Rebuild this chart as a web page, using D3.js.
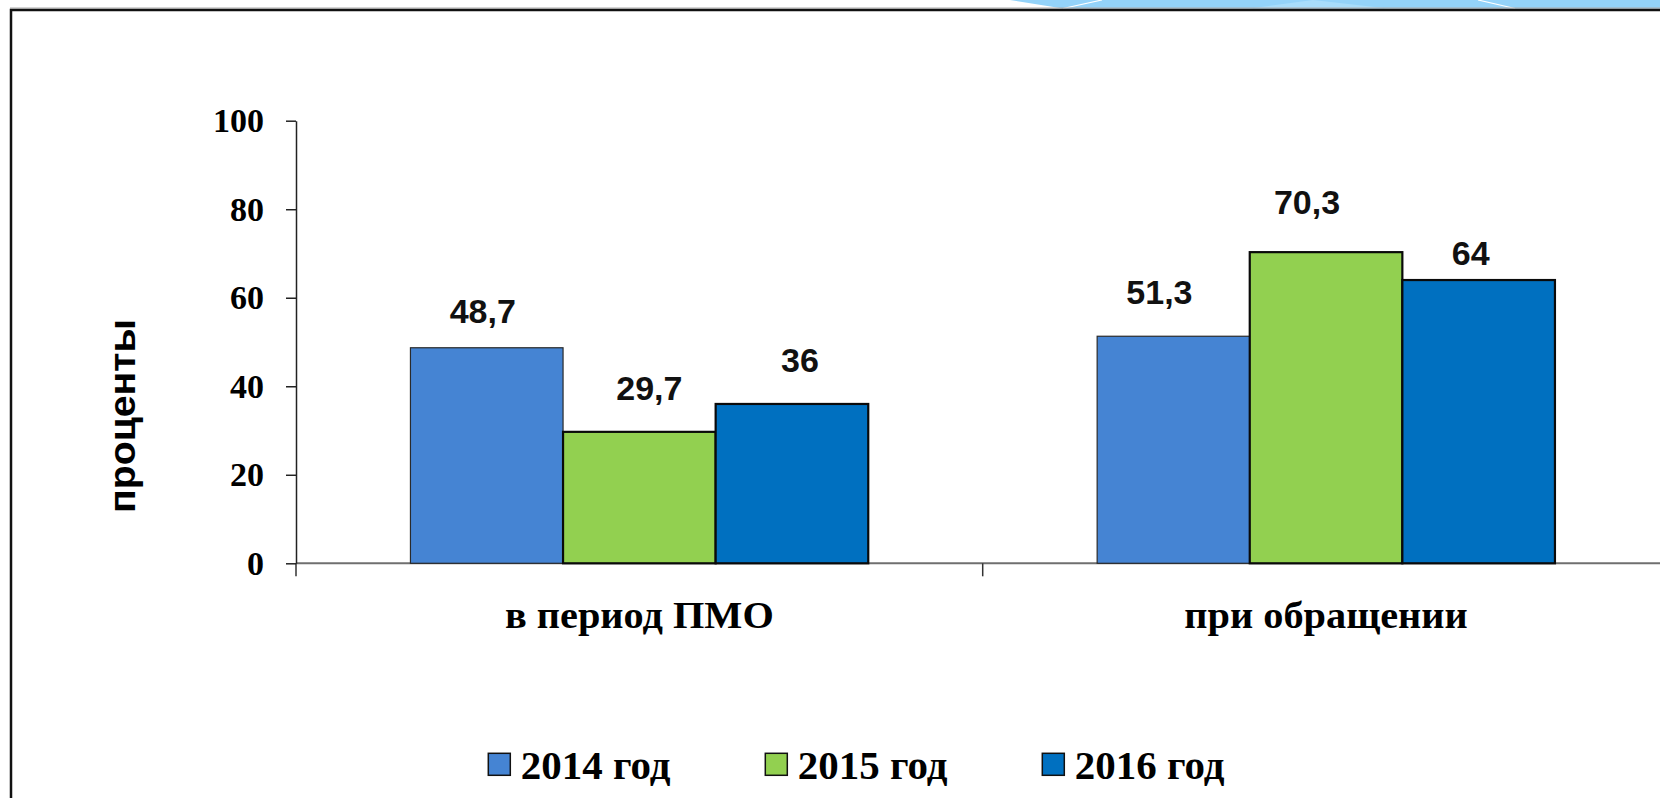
<!DOCTYPE html>
<html><head><meta charset="utf-8">
<script src="https://cdn.jsdelivr.net/npm/d3@7"></script>
<style>html,body{margin:0;padding:0;background:#fff;overflow:hidden}</style>
</head><body><svg id="c" width="1660" height="798"></svg>
<script>
// ---- data ----
const categories = ["в период ПМО", "при обращении"];
const series = ["2014 год", "2015 год", "2016 год"];
const values2014 = [48.7, 51.3];
const values2015 = [29.7, 70.3];
const values2016 = [36, 64];
const yTicks = [0, 20, 40, 60, 80, 100];
const yTitle = "проценты";

// ---- styling / label nudges (manually placed labels in the original) ----
const colors = ["#4584d3", "#92d050", "#0070c0"];
const strokeW = [1.2, 2.2, 2.2];
const labelShiftX = [[-4, -14], [10, -19], [8, -8]];
const labelShiftY = [[7, 0], [0, -6], [0, 17]];

const seriesValues = [values2014, values2015, values2016];
const W = 1660, H = 798;
const svg = d3.select("#c");
const serif = "Liberation Serif, Times New Roman, serif";
const sans = "Liberation Sans, Arial, sans-serif";

// ---- decoration & frame ----
svg.append("path").attr("d", "M1010,0 L1063,8.5 L1660,8.5 L1660,0 Z").attr("fill", "#94d3f9");
svg.append("path").attr("d", "M1250,8.5 L1313,0 L1388,8.5 Z").attr("fill", "#a9ddfb");
svg.append("line").attr("x1", 1063).attr("y1", 8.5).attr("x2", 1102).attr("y2", 0).attr("stroke", "#fff").attr("stroke-width", 1.2);
svg.append("line").attr("x1", 1478).attr("y1", 0).attr("x2", 1515).attr("y2", 8.5).attr("stroke", "#fff").attr("stroke-width", 1.2);
svg.append("line").attr("x1", 10).attr("y1", 8).attr("x2", W).attr("y2", 8).attr("stroke", "#aaa").attr("stroke-width", 1);
svg.append("rect").attr("x", 11).attr("y", 10).attr("width", 1700).attr("height", 900)
  .attr("fill", "none").attr("stroke", "#111").attr("stroke-width", 2.5);

// ---- scales ----
const plotLeft = 296, yTop = 120.7, yBottom = 563.3, bandW = 686.7;
const y = d3.scaleLinear().domain([0, 100]).range([yBottom, yTop]);
const x = d3.scaleBand().domain(categories).range([plotLeft, plotLeft + bandW * categories.length]).padding(0);
const gapRatio = 1.5;
const barW = x.bandwidth() / (series.length + gapRatio);
const xs = d3.scaleBand().domain(series).range([barW * gapRatio / 2, x.bandwidth() - barW * gapRatio / 2]).padding(0);

// ---- x axis ----
svg.append("line").attr("x1", plotLeft).attr("x2", W).attr("y1", yBottom).attr("y2", yBottom)
  .attr("stroke", "#6f6f6f").attr("stroke-width", 2);
const boundaries = categories.map(c => x(c)).concat([x.range()[1]]);
svg.selectAll(".xtick").data(boundaries).join("line").attr("class", "xtick")
  .attr("x1", d => d).attr("x2", d => d).attr("y1", yBottom).attr("y2", yBottom + 13)
  .attr("stroke", "#333").attr("stroke-width", 1.5);

// ---- bars ----
const rows = [];
series.forEach((s, si) => categories.forEach((c, ci) => rows.push({ s, si, c, ci, v: seriesValues[si][ci] })));
svg.selectAll(".bar").data(rows).join("rect").attr("class", "bar")
  .attr("x", d => x(d.c) + xs(d.s)).attr("width", xs.bandwidth())
  .attr("y", d => y(d.v)).attr("height", d => y(0) - y(d.v))
  .attr("fill", d => colors[d.si]).attr("stroke", d => d.si === 0 ? "#2a2a2a" : "#0a0a0a")
  .attr("stroke-width", d => strokeW[d.si]);

// ---- data labels ----
svg.selectAll(".lbl").data(rows).join("text").attr("class", "lbl")
  .attr("x", d => x(d.c) + xs(d.s) + xs.bandwidth() / 2 + labelShiftX[d.si][d.ci])
  .attr("y", d => y(d.v) - 32 + labelShiftY[d.si][d.ci])
  .attr("text-anchor", "middle").attr("font-family", sans)
  .attr("font-weight", "bold").attr("font-size", 34).attr("fill", "#111")
  .text(d => String(d.v).replace(".", ","));

// ---- y axis ----
const gy = svg.append("g").attr("transform", `translate(${plotLeft},0)`)
  .call(d3.axisLeft(y).tickValues(yTicks).tickSize(10).tickSizeOuter(0).tickPadding(22));
gy.select(".domain").attr("stroke", "#222").attr("stroke-width", 1.5);
gy.selectAll(".tick line").attr("stroke", "#222").attr("stroke-width", 1.5);
gy.selectAll(".tick text").attr("font-family", serif)
  .attr("font-weight", "bold").attr("font-size", 34).attr("fill", "#000");

// ---- category labels ----
svg.selectAll(".cat").data(categories).join("text").attr("class", "cat")
  .attr("transform", d => `translate(${x(d) + x.bandwidth() / 2},627.7) scale(1.09,1)`)
  .attr("text-anchor", "middle").attr("font-family", serif)
  .attr("font-weight", "bold").attr("font-size", 37).attr("fill", "#000")
  .text(d => d);

// ---- y title ----
svg.append("text").attr("transform", "translate(135,416) rotate(-90) scale(1.06,1)")
  .attr("text-anchor", "middle").attr("font-family", sans)
  .attr("font-weight", "bold").attr("font-size", 37).attr("fill", "#000").text(yTitle);

// ---- legend ----
const lg = svg.selectAll(".lg").data(series).join("g").attr("class", "lg")
  .attr("transform", (d, i) => `translate(${488.3 + i * 277},753.3)`);
lg.append("rect").attr("width", 22).attr("height", 22)
  .attr("fill", (d, i) => colors[i]).attr("stroke", "#111").attr("stroke-width", 1.5);
lg.append("text").attr("transform", "translate(32.5,26) scale(1.05,1)").attr("font-family", serif)
  .attr("font-weight", "bold").attr("font-size", 39).attr("fill", "#000").text(d => d);
</script>
</body></html>
